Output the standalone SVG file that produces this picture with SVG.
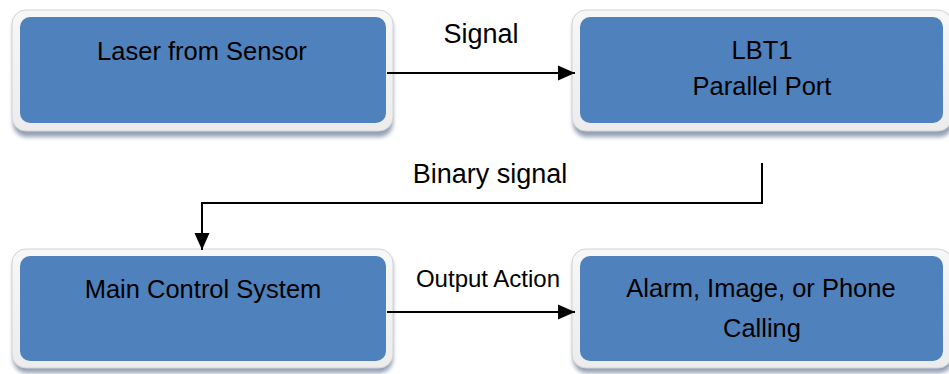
<svg xmlns="http://www.w3.org/2000/svg" width="949" height="374" viewBox="0 0 949 374">
  <style>
    .frame { fill: url(#frameGrad); stroke: #d4d4d4; stroke-width: 1; }
    .shadow { fill: #6f819c; opacity: 0.75; filter: url(#soft); }
    .panel { fill: #4f81bd; }
    .label { font-family: "Liberation Sans", Arial, sans-serif; fill: #000; text-anchor: middle; }
    .box-text { font-size: 25.5px; }
    .edge-text { font-size: 27px; }
    .edge-small { font-size: 24px; }
    .wire { fill: none; stroke: #000; stroke-width: 2; }
  </style>
  <defs>
    <linearGradient id="frameGrad" x1="0" y1="0" x2="0" y2="1">
      <stop offset="0" stop-color="#f7f7f7"/>
      <stop offset="1" stop-color="#ececec"/>
    </linearGradient>
    <filter id="soft" x="-5%" y="-20%" width="110%" height="140%">
      <feGaussianBlur stdDeviation="2.2"/>
    </filter>
    <marker id="arrow" markerUnits="userSpaceOnUse" markerWidth="18" markerHeight="16" refX="17" refY="8" orient="auto">
      <polygon points="0,0.5 17,8 0,15.5" fill="#000"/>
    </marker>
  </defs>

  <rect width="949" height="374" fill="#ffffff"/>

  <!-- Laser source box -->
  <g id="laser-sensor">
    <rect class="shadow" x="13" y="14" width="380" height="123" rx="14"/>
    <rect class="frame" x="12" y="10" width="381" height="121" rx="14"/>
    <rect class="panel" x="20" y="17" width="366" height="106" rx="10"/>
    <text class="label box-text" x="202" y="60">Laser from Sensor</text>
  </g>

  <!-- Parallel port box -->
  <g id="lbt1-port">
    <rect class="shadow" x="573" y="14" width="380" height="123" rx="14"/>
    <rect class="frame" x="572" y="10" width="380" height="121" rx="14"/>
    <rect class="panel" x="580" y="17" width="363" height="106" rx="10"/>
    <text class="label box-text" x="762" y="59">LBT1</text>
    <text class="label box-text" x="762" y="95">Parallel Port</text>
  </g>

  <!-- Controller box -->
  <g id="main-control">
    <rect class="shadow" x="13" y="253" width="380" height="120" rx="14"/>
    <rect class="frame" x="12" y="249" width="381" height="119" rx="14"/>
    <rect class="panel" x="20" y="256" width="366" height="105" rx="10"/>
    <text class="label box-text" x="203" y="298">Main Control System</text>
  </g>

  <!-- Output box -->
  <g id="alarm-output">
    <rect class="shadow" x="573" y="253" width="380" height="120" rx="14"/>
    <rect class="frame" x="572" y="249" width="380" height="119" rx="14"/>
    <rect class="panel" x="580" y="256" width="363" height="105" rx="10"/>
    <text class="label box-text" x="761" y="297">Alarm, Image, or Phone</text>
    <text class="label box-text" x="762" y="337">Calling</text>
  </g>

  <!-- Connectors -->
  <g id="connectors">
    <line class="wire" x1="387" y1="73" x2="575" y2="73" marker-end="url(#arrow)"/>
    <text class="label edge-text" x="481" y="43">Signal</text>

    <polyline class="wire" points="762,163 762,203 202,203 202,250" marker-end="url(#arrow)"/>
    <text class="label edge-text" x="490" y="183">Binary signal</text>

    <line class="wire" x1="387" y1="312" x2="575" y2="312" marker-end="url(#arrow)"/>
    <text class="label edge-small" x="488" y="287">Output Action</text>
  </g>
</svg>
